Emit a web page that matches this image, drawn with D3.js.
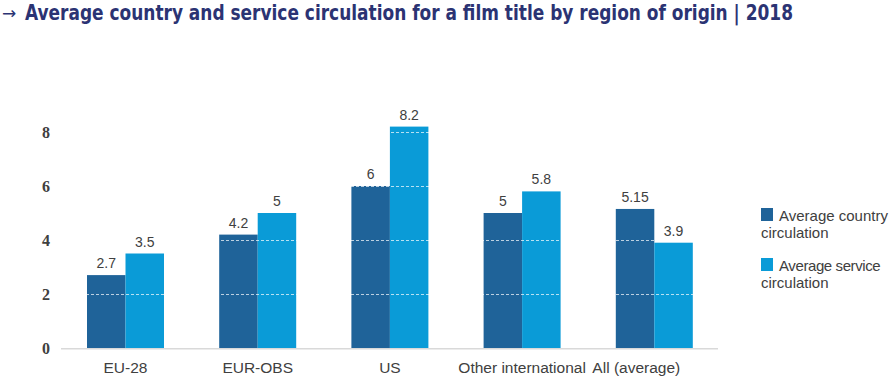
<!DOCTYPE html>
<html><head><meta charset="utf-8">
<script src="https://cdn.jsdelivr.net/npm/d3@7"></script>
<style>body{margin:0;background:#fff}svg{display:block}</style>
</head><body>
<script>
const categories = ["EU-28","EUR-OBS","US","Other international","All (average)"];
const seriesNames = ["Average country circulation","Average service circulation"];
const countryValues = [2.7, 4.2, 6, 5, 5.15];
const serviceValues = [3.5, 5, 8.2, 5.8, 3.9];
const valueLabels = [["2.7","4.2","6","5","5.15"],["3.5","5","8.2","5.8","3.9"]];
const yTicks = [0,2,4,6,8];
const colors = ["#1f6399","#0a9bd7"];

const W=893,H=380;
const svg=d3.select("body").append("svg").attr("width",W).attr("height",H);

svg.append("text").attr("x",2).attr("y",19)
  .attr("font-family","'DejaVu Sans',sans-serif").attr("font-size",17).attr("fill","#2b3373")
  .text("\u2192");
const title = svg.append("text").attr("x",25).attr("y",20)
  .attr("font-family","'DejaVu Sans Condensed','DejaVu Sans',sans-serif")
  .attr("font-weight","bold").attr("font-size",20.5).attr("fill","#2b3373")
  .text("Average country and service circulation for a film title by region of origin | 2018");
title.attr("textLength",768).attr("lengthAdjust","spacingAndGlyphs");

const x0=d3.scaleBand().domain(categories).range([59.4,720.4]);
const y=d3.scaleLinear().domain([0,8]).range([348,132]);
const bw=38.5;

svg.append("line").attr("x1",61).attr("x2",718).attr("y1",y(0)+0.75).attr("y2",y(0)+0.75)
  .attr("stroke","#d9d9d9").attr("stroke-width",1.5);

const data=[countryValues,serviceValues];
data.forEach((vals,s)=>{
  svg.append("g").selectAll("rect").data(categories).join("rect")
    .attr("x",(c)=>x0(c)+x0.bandwidth()/2-bw+s*bw)
    .attr("width",bw)
    .attr("y",(c,i)=>y(vals[i]))
    .attr("height",(c,i)=>y(0)-y(vals[i]))
    .attr("fill",colors[s]);
});
svg.append("g").selectAll("line").data(yTicks.filter(d=>d>0)).join("line")
  .attr("x1",61).attr("x2",718).attr("y1",d=>Math.round(y(d))+0.5).attr("y2",d=>Math.round(y(d))+0.5)
  .attr("stroke","#ffffff").attr("stroke-opacity",0.7).attr("stroke-width",1).attr("stroke-dasharray","3,2");

data.forEach((vals,s)=>{
  svg.append("g").selectAll("text").data(categories).join("text")
    .attr("x",(c)=>x0(c)+x0.bandwidth()/2-bw/2+s*bw)
    .attr("y",(c,i)=>y(vals[i])-7)
    .attr("text-anchor","middle")
    .attr("font-family","'Liberation Sans',Arial,sans-serif").attr("font-size",14)
    .attr("fill","#404040")
    .text((c,i)=>valueLabels[s][i]);
});

const yAxis=d3.axisLeft(y).tickValues(yTicks).tickSize(0).tickPadding(0).tickFormat(d3.format("d"));
const ga=svg.append("g").attr("transform","translate(50,0)").call(yAxis);
ga.select(".domain").remove();
ga.selectAll("text").attr("font-family","'Liberation Serif','DejaVu Serif',serif")
  .attr("font-weight","bold").attr("font-size",16).attr("fill","#404040").attr("dy","0.35em");

const xAxis=d3.axisBottom(x0).tickSize(0).tickPadding(0);
const gx=svg.append("g").attr("transform",`translate(0,${y(0)+25})`).call(xAxis);
gx.select(".domain").remove();
gx.selectAll("text").attr("font-family","'Liberation Sans',Arial,sans-serif")
  .attr("font-size",15.5).attr("fill","#404040").attr("dy","0")
  .attr("dx",(d,i)=> i===categories.length-1 ? -18 : 0);

const lg=svg.append("g").attr("font-family","'Liberation Sans',Arial,sans-serif").attr("font-size",15).attr("fill","#404040");
const legendLines=[["Average country","circulation"],["Average service","circulation"]];
[208,258].forEach((ty,i)=>{
  lg.append("rect").attr("x",761).attr("y",ty).attr("width",12).attr("height",13).attr("fill",colors[i]);
  const t=lg.append("text").attr("x",779).attr("y",ty+13).text(legendLines[i][0]);
  if(i===1) t.attr("letter-spacing",-0.4);
  lg.append("text").attr("x",761).attr("y",ty+30).text(legendLines[i][1]);
});
</script>
</body></html>
